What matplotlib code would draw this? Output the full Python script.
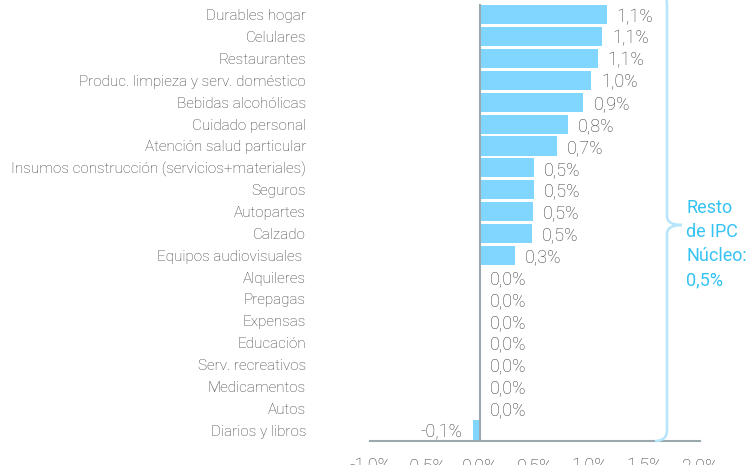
import matplotlib.pyplot as plt
from matplotlib.path import Path
from matplotlib.patches import PathPatch

categories = [
    "Durables hogar", "Celulares", "Restaurantes",
    "Produc. limpieza y serv. doméstico", "Bebidas alcohólicas",
    "Cuidado personal", "Atención salud particular",
    "Insumos construcción (servicios+materiales)", "Seguros", "Autopartes",
    "Calzado", "Equipos audiovisuales ", "Alquileres", "Prepagas", "Expensas",
    "Educación", "Serv. recreativos", "Medicamentos", "Autos", "Diarios y libros",
]
values = [1.15, 1.11, 1.07, 1.01, 0.94, 0.80, 0.70, 0.49, 0.49, 0.48, 0.47,
          0.32, 0.0, 0.0, 0.0, 0.0, 0.0, 0.0, 0.0, -0.06]
value_labels = ["1,1%", "1,1%", "1,1%", "1,0%", "0,9%", "0,8%", "0,7%", "0,5%",
                "0,5%", "0,5%", "0,5%", "0,3%", "0,0%", "0,0%", "0,0%", "0,0%",
                "0,0%", "0,0%", "0,0%", "-0,1%"]
xticks = [-1.0, -0.5, 0.0, 0.5, 1.0, 1.5, 2.0]
xtick_labels = ["-1,0%", "-0,5%", "0,0%", "0,5%", "1,0%", "1,5%", "2,0%"]
brace_text = "Resto\nde IPC\nNúcleo:\n0,5%"

plt.rcParams["font.family"] = ["Roboto", "DejaVu Sans"]

W, H = 748, 465
fig = plt.figure(figsize=(W / 100, H / 100), dpi=100)
ax = fig.add_axes([370 / W, (H - 441) / H, 330 / W, 441 / H])

bar_color = "#80d6fe"
text_color = "#3c3c3c"
line_color = "#9aa9ad"
accent = "#35c3f3"

ypos = list(range(len(categories)))
ax.barh(ypos, values, height=0.88, color=bar_color, zorder=2)
ax.vlines(0, -0.5, len(categories) - 0.5, color=line_color, lw=1.5, zorder=3)

for y, v, lab in zip(ypos, values, value_labels):
    if v < 0:
        ax.annotate(lab, (v, y), xytext=(-11, -2), textcoords="offset pixels",
                    ha="right", va="center", fontsize=13, color=text_color,
                    fontweight="light")
    else:
        ax.annotate(lab, (v, y), xytext=(10, -2), textcoords="offset pixels",
                    ha="left", va="center", fontsize=13, color=text_color,
                    fontweight="light")

ax.set_xlim(-1.0, 2.0)
ax.set_ylim(len(categories) - 0.5, -0.68)
ax.set_yticks(ypos)
ax.set_yticklabels(categories, fontsize=11, color=text_color, fontweight="light")
ax.set_xticks(xticks)
ax.set_xticklabels(xtick_labels, fontsize=13, color=text_color, fontweight="light")
ax.tick_params(axis="y", length=0, pad=46)
ax.tick_params(axis="x", length=0, pad=12)
for side in ["top", "right", "left"]:
    ax.spines[side].set_visible(False)
ax.spines["bottom"].set_color(line_color)
ax.spines["bottom"].set_linewidth(1.5)

# curly brace on the right
def px(x, y):
    return (x / W, (H - y) / H)

verts = [px(655, -8), px(667, -8), px(667, 4),
         px(667, 216),
         px(667, 225), px(682, 225),
         px(667, 225), px(667, 234),
         px(667, 430), px(667, 441), px(655, 441)]
codes = [Path.MOVETO, Path.CURVE3, Path.CURVE3,
         Path.LINETO,
         Path.CURVE3, Path.CURVE3,
         Path.CURVE3, Path.CURVE3,
         Path.LINETO, Path.CURVE3, Path.CURVE3]
brace = PathPatch(Path(verts, codes), transform=fig.transFigure,
                  fill=False, edgecolor="#b5e6fb", lw=1.8)
fig.patches.append(brace)
fig.text(686 / W, (H - 244) / H, brace_text, color=accent, fontsize=13,
         ha="left", va="center", linespacing=1.45)

fig.savefig("out.png", dpi=100)
